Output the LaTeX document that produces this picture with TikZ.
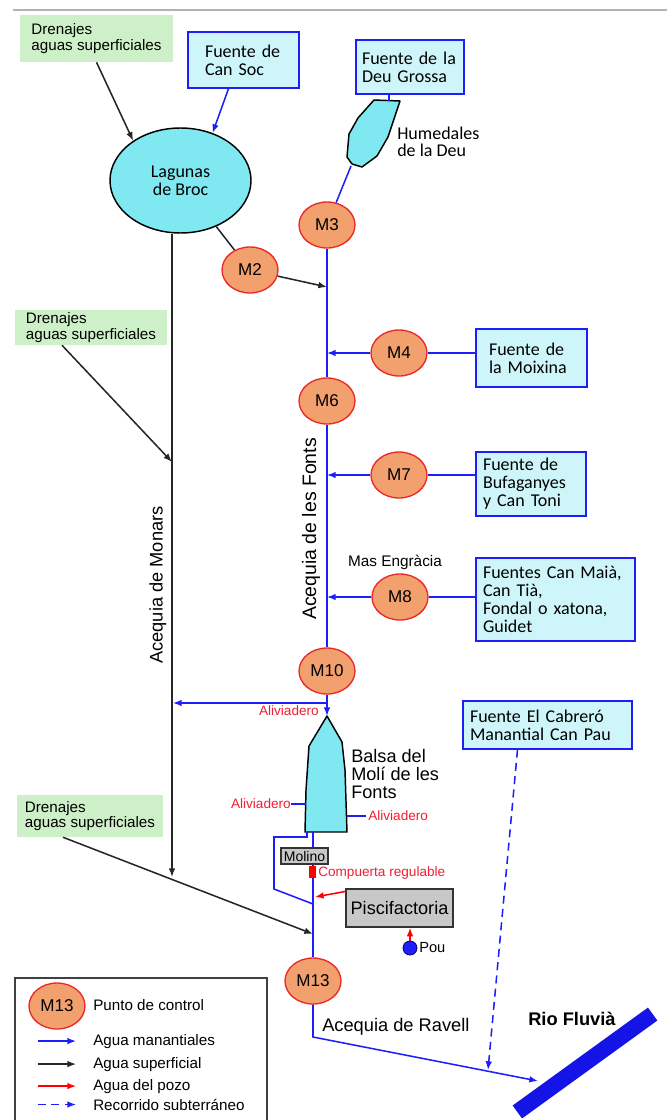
\documentclass[tikz,border=0pt]{standalone}
\usepackage{fontspec}
\setmainfont{Liberation Sans}
\newfontfamily\boxfont{Carlito}
\usetikzlibrary{arrows.meta,shapes.geometric}

\definecolor{flowblue}{RGB}{30,30,250}
\definecolor{riverblue}{RGB}{20,20,230}
\definecolor{lagoonfill}{RGB}{128,232,240}
\definecolor{srcfill}{RGB}{206,246,250}
\definecolor{ctrlfill}{RGB}{242,160,110}
\definecolor{ctrlline}{RGB}{235,40,40}
\definecolor{drainfill}{RGB}{206,240,200}
\definecolor{millfill}{RGB}{200,200,200}
\definecolor{spillred}{RGB}{240,30,50}

\tikzset{
  ctrl/.style={ellipse, draw=ctrlline, fill=ctrlfill, line width=1pt, minimum width=42pt, minimum height=34.5pt, inner sep=0pt, font=\fontsize{12.8}{14}\selectfont},
  src/.style={rectangle, draw=flowblue, fill=srcfill, line width=1pt, align=left, inner ysep=0pt, font=\boxfont\fontsize{13.5}{13.5}\selectfont},
  drain/.style={rectangle, fill=drainfill, align=left, inner sep=0pt, font=\fontsize{11.4}{11.4}\selectfont},
  lagoon/.style={ellipse, draw=black, fill=lagoonfill, line width=1.1pt, align=center, inner sep=0pt, font=\boxfont\fontsize{13.5}{13.5}\selectfont},
  wet/.style={draw=black, fill=lagoonfill, line width=1.1pt, line join=round},
  mill/.style={rectangle, draw=black!80, fill=millfill, line width=1pt, inner sep=0pt},
  spring/.style={draw=flowblue, line width=1.15pt},
  surf/.style={draw=black!85, line width=1.15pt},
  well/.style={draw=red, line width=1.15pt},
  sub/.style={draw=flowblue, line width=1.15pt, dash pattern=on 6pt off 4pt},
  tip/.style={-{Latex[length=6.5pt,width=5pt]}},
  spill/.style={text=spillred, inner sep=0pt, font=\fontsize{10.2}{11}\selectfont},
  big/.style={inner sep=0pt, font=\fontsize{13.7}{13.5}\selectfont},
  key/.style={anchor=base west, inner sep=0pt, font=\fontsize{11.4}{12}\selectfont},
}

\begin{document}
\begin{tikzpicture}[x=0.75pt,y=-0.75pt]
\useasboundingbox (0,0) rectangle (667,1120);
\draw[black!30, line width=0.8pt] (13,10) -- (667,10);

\node[drain, minimum width=114.75pt, minimum height=35.25pt] (drainN) at (96.5,38.5) {Drenajes\\aguas superficiales};
\node[drain, minimum width=114pt, minimum height=26.25pt] (drainM) at (91,327.5) {Drenajes\\aguas superficiales};
\node[drain, minimum width=109.5pt, minimum height=31.5pt] (drainS) at (90,816) {Drenajes\\aguas superficiales};

\node[src, text width=57.75pt, inner xsep=12.75pt, minimum height=42pt] (cansoc) at (243.5,60) {Fuente de\\Can Soc};
\node[src, text width=72pt, inner xsep=4.5pt, minimum height=40.5pt] (deu) at (410,67) {Fuente de la\\Deu Grossa};
\node[src, text width=63.75pt, inner xsep=9.75pt, minimum height=43.5pt] (moixina) at (531.5,358) {Fuente de\\la Moixina};
\node[src, text width=72pt, inner xsep=5.25pt, minimum height=48pt] (bufa) at (531,484) {Fuente de\\Bufaganyes\\y Can Toni};
\node[src, text width=108.75pt, inner xsep=5.25pt, minimum height=62.25pt] (maia) at (555.5,599.5) {Fuentes Can Maià,\\Can Tià,\\Fondal o xatona,\\Guidet};
\node[src, text width=116.25pt, inner xsep=5.25pt, minimum height=36pt] (cabrero) at (547.5,725) {Fuente El Cabreró\\Manantial Can Pau};

\node[lagoon, minimum width=105.75pt, minimum height=78.75pt] (broc) at (180.5,180.5) {Lagunas\\de Broc};

\draw[wet] (374,100) -- (400,101) -- (388,137) -- (377,156) -- (362,167) -- (352,164) -- (347,157) -- (349,134) -- (358,118) -- cycle;
\coordinate (wettop) at (389,101);
\coordinate (wetlow) at (351,166);
\node[anchor=west, align=left, inner sep=0pt, font=\boxfont\fontsize{13.5}{12.75}\selectfont] (humlabel) at (397,142) {Humedales\\de la Deu};

\node[ctrl] (m3) at (327,225) {M3};
\node[ctrl] (m2) at (250,270) {M2};
\node[ctrl] (m4) at (399,353) {M4};
\node[ctrl] (m6) at (327,401) {M6};
\node[ctrl] (m7) at (399,475) {M7};
\node[ctrl] (m8) at (400,597) {M8};
\node[ctrl] (m10) at (327,671) {M10};
\node[ctrl] (m13) at (313,981) {M13};

\coordinate (m2in) at (327,287);
\coordinate (m4in) at (327,353);
\coordinate (m7in) at (327,475);
\coordinate (m8in) at (327,597);
\coordinate (monarsdrain) at (172,462);
\coordinate (monarsspill) at (173,703);
\coordinate (monarsend) at (172,877);
\coordinate (ravellin) at (313,934);

\draw[surf,tip] (drainN.south) -- (broc.140);
\draw[spring,tip] ([shift={(-15,0)}]cansoc.south) -- (broc.56);
\draw[spring] (wettop |- deu.south) -- (wettop);
\draw[spring] (wetlow) -- (m3);
\draw[surf] (broc) -- (m2);
\draw[surf,tip] (m2) -- (m2in);
\draw[spring] (m3.south) -- (m6.north);
\draw[spring] (m6.south) -- (m10.north);
\draw[spring] (moixina.west |- m4) -- (m4);
\draw[spring,tip] (m4) -- (m4in);
\draw[spring] (bufa.west |- m7) -- (m7);
\draw[spring,tip] (m7) -- (m7in);
\draw[spring] (maia.west |- m8) -- (m8);
\draw[spring,tip] (m8) -- (m8in);
\node[font=\fontsize{11.5}{12}\selectfont, inner sep=0pt] (masengracia) at (395,562) {Mas Engràcia};

\draw[surf,tip] (broc.south -| monarsend) -- (monarsend);
\draw[surf,tip] ([shift={(-29,0)}]drainM.south) -- (monarsdrain);
\draw[surf,tip] ([shift={(-27,0)}]drainS.south) -- (ravellin);
\node[big, rotate=90] (monarslabel) at (158,585) {Acequia de Monars};
\node[big, rotate=90, font=\fontsize{14.6}{14}\selectfont] (fontslabel) at (311,529) {Acequia de les Fonts};

\draw[wet] (327,716) -- (342,742) -- (345,770) -- (347,832) -- (305,832) -- (306,790) -- (309,746) -- cycle;
\coordinate (balsatop) at (327,716);
\coordinate (balsaout) at (313,832);
\coordinate (bypass) at (307,832);
\coordinate (bypassend) at (313,904);
\coordinate (balsaW) at (306,804);
\coordinate (balsaE) at (346.5,816);
\node[anchor=west, align=left, inner sep=0pt, font=\fontsize{13.6}{13.5}\selectfont] (balsalabel) at (351,774.5) {Balsa del\\Molí de les\\Fonts};

\draw[spring,tip] (m10.south) -- (balsatop);
\draw[spring,tip] (m10.south |- monarsspill) -- (monarsspill);
\node[spill, anchor=east] (spillN) at (319,711) {Aliviadero};
\node[spill, anchor=east] (spillW) at (291,804) {Aliviadero};
\node[spill, anchor=west] (spillE) at (368,816) {Aliviadero};
\draw[spring] (spillW.east) -- (balsaW);
\draw[spring] (balsaE) -- ([shift={(-2,0)}]spillE.west);

\draw[spring] (balsaout) -- (m13.north);
\draw[spring] (bypass) -- ++(0,5) -| (274,889) -- (bypassend);
\node[mill, minimum width=35.25pt, minimum height=12pt, font=\fontsize{10.5}{12}\selectfont] (molino) at (304.5,856) {Molino};
\node[fill=red, minimum width=5.25pt, minimum height=9pt, inner sep=0pt] (gate) at (312.5,872) {};
\node[spill, anchor=west] (gatelabel) at (318,873) {Compuerta regulable};

\node[mill, minimum width=80.25pt, minimum height=28.5pt, font=\fontsize{13.6}{14}\selectfont] (pisci) at (399.5,908) {Piscifactoria};
\coordinate (gatein) at (315,897);
\draw[well,tip] (pisci.163) -- (gatein);
\node[circle, fill=flowblue, draw=blue!50!black, line width=0.6pt, minimum size=10.5pt, inner sep=0pt] (pou) at (410,948) {};
\node[anchor=west, inner sep=0pt, font=\fontsize{11}{12}\selectfont] (poulabel) at (419,948) {Pou};
\draw[well,tip] (pou.north) -- (pou.north |- pisci.south);

\node[fill=riverblue, minimum width=125.3pt, minimum height=12pt, inner sep=0pt, rotate=35.9] (fluvia) at (585,1063) {};
\node[anchor=base west, inner sep=0pt, font=\bfseries\fontsize{13.7}{14}\selectfont] (fluvialabel) at (528,1025) {Rio Fluvià};
\coordinate (ravellbend) at (313,1037);
\coordinate (riverbank) at (538,1081);
\coordinate (seep) at (488,1070);
\draw[spring,tip] (m13.south) -- (ravellbend) -- (riverbank);
\node[big, anchor=base west] (ravelllabel) at (322,1031) {Acequia de Ravell};
\draw[sub,tip] ([shift={(-30,0)}]cabrero.south) -- (seep);

\draw[black!75, line width=0.8pt] (15,978) rectangle (267,1126);
\node[ctrl] (keyctrl) at (57,1006) {M13};
\node[key] (keyctrltext) at (93,1010) {Punto de control};
\node[key] (keyspring) at (93,1045) {Agua manantiales};
\node[key] (keysurf) at (93,1068) {Agua superficial};
\node[key] (keywell) at (93,1090) {Agua del pozo};
\node[key] (keysub) at (93,1110) {Recorrido subterráneo};
\draw[spring,tip] ([shift={(-55,0)}]keyspring.west) -- ([shift={(-17,0)}]keyspring.west);
\draw[surf,tip] ([shift={(-55,0)}]keysurf.west) -- ([shift={(-17,0)}]keysurf.west);
\draw[well,tip] ([shift={(-55,0)}]keywell.west) -- ([shift={(-17,0)}]keywell.west);
\draw[sub,tip] ([shift={(-55,0)}]keysub.west) -- ([shift={(-17,0)}]keysub.west);
\end{tikzpicture}
\end{document}
